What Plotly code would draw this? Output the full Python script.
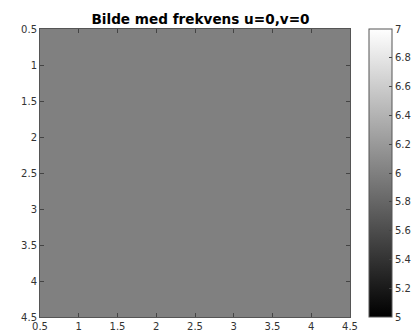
import plotly.graph_objects as go

cols = [1, 2, 3, 4]
rows = [1, 2, 3, 4]
values = [[6, 6, 6, 6],
          [6, 6, 6, 6],
          [6, 6, 6, 6],
          [6, 6, 6, 6]]
xticks = [0.5, 1, 1.5, 2, 2.5, 3, 3.5, 4, 4.5]
cbticks = [5, 5.2, 5.4, 5.6, 5.8, 6, 6.2, 6.4, 6.6, 6.8, 7]

fig = go.Figure(go.Heatmap(
    x=cols, y=rows, z=values, zmin=5, zmax=7,
    colorscale=[[0, "rgb(0,0,0)"], [1, "rgb(255,255,255)"]],
    showscale=True,
    colorbar=dict(
        x=(373 - 32) / 321, xanchor="left", xpad=0, y=0.5, yanchor="middle",
        len=1, lenmode="fraction", ypad=0, thickness=23,
        outlinecolor="#555555", outlinewidth=1,
        tickvals=cbticks, ticktext=[f"{v:g}" for v in cbticks],
        ticks="inside", ticklen=3, tickcolor="#444444",
        tickfont=dict(family="DejaVu Sans", size=10, color="#333333"),
    ),
))

axis_common = dict(
    tickvals=xticks, ticktext=[f"{v:g}" for v in xticks],
    ticks="inside", ticklen=4, tickcolor="#444444",
    showline=True, linecolor="#555555", linewidth=1, mirror="ticks",
    showgrid=False, zeroline=False,
    tickfont=dict(family="DejaVu Sans", size=10, color="#333333"),
)
fig.update_xaxes(range=[0.5, 4.5], **axis_common)
fig.update_yaxes(range=[4.5, 0.5], **axis_common)

fig.update_layout(
    width=419, height=336,
    margin=dict(l=32, r=66, t=21, b=21),
    paper_bgcolor="white", plot_bgcolor="white",
    title=dict(text="<b>Bilde med frekvens u=0,v=0</b>", x=(32 + 321 / 2) / 419, xanchor="center",
               y=1 - 11 / 336, yanchor="middle",
               font=dict(family="DejaVu Sans", size=13.6, color="#000000")),
)

fig.write_html("out.html")
